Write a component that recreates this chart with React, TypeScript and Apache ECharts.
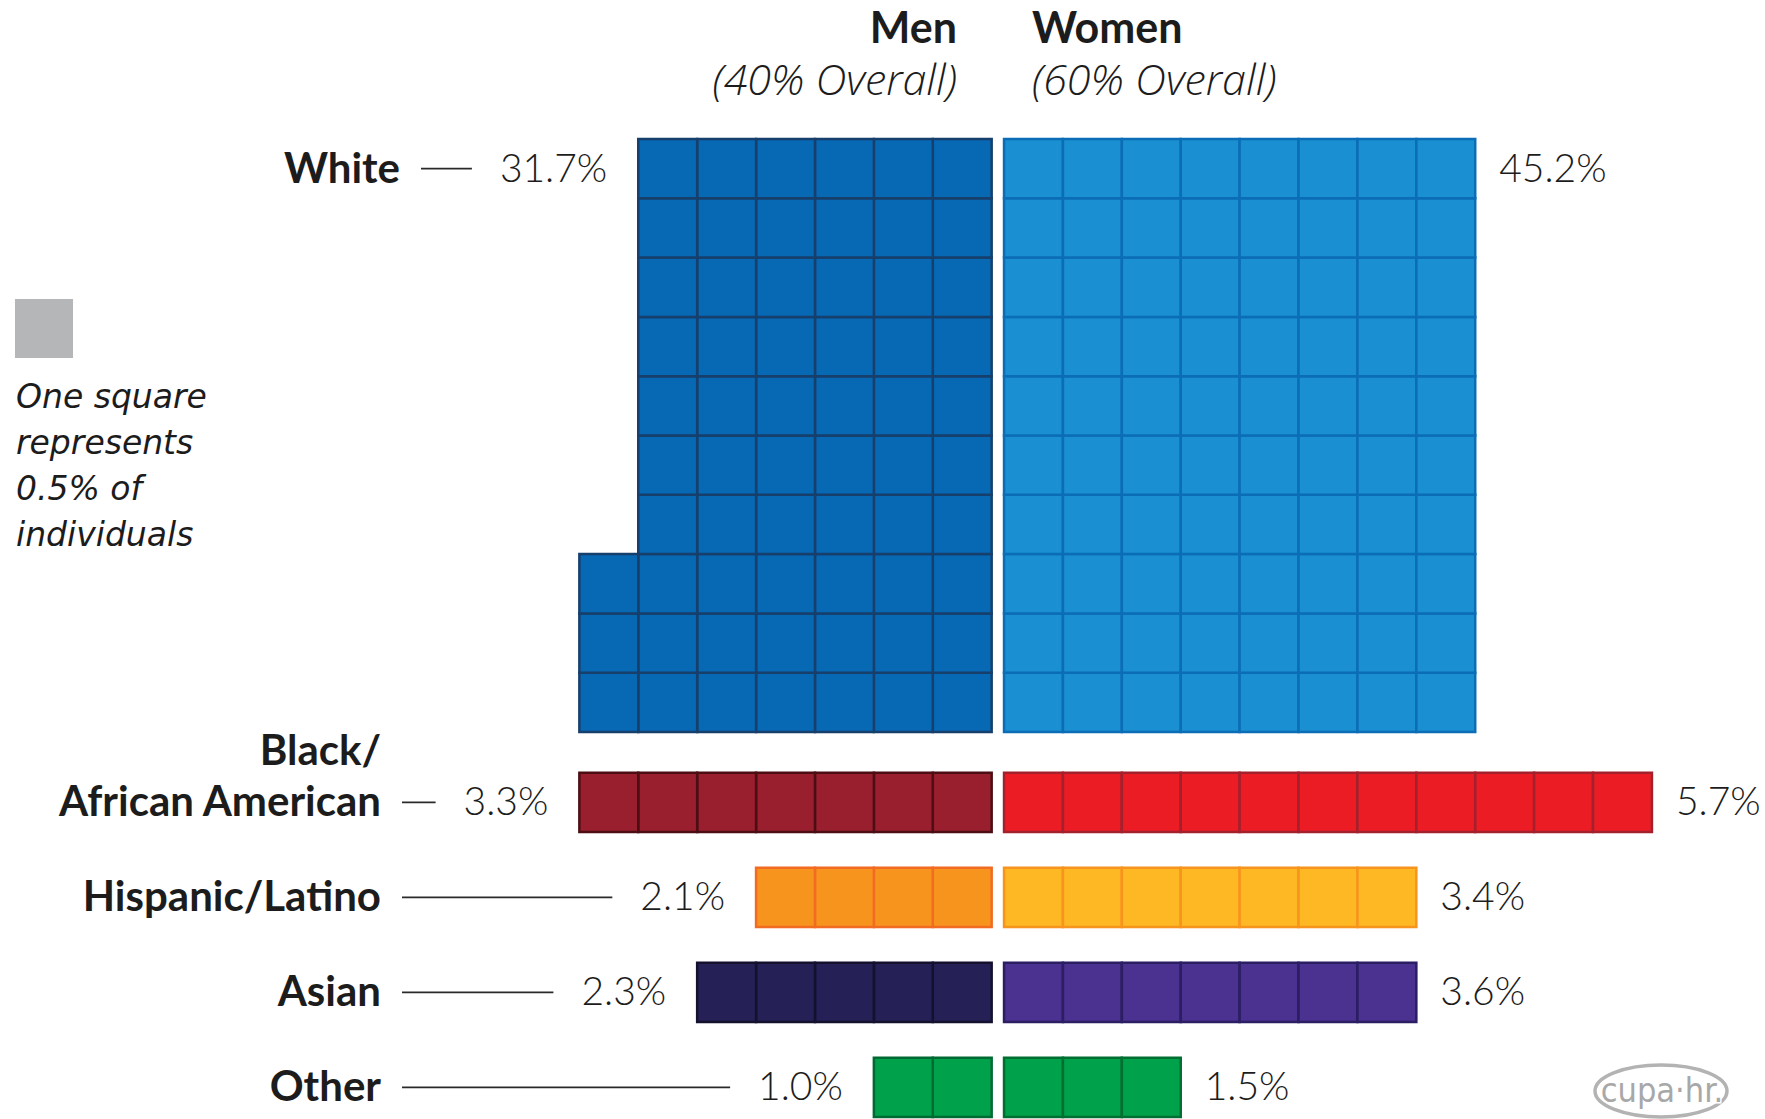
import React, { useEffect, useRef } from "react";
import * as echarts from "echarts";

// ---------- data ----------
const categories = ["White", "Black/\nAfrican American", "Hispanic/Latino", "Asian", "Other"];
const menLabels = ["31.7%", "3.3%", "2.1%", "2.3%", "1.0%"];
const womenLabels = ["45.2%", "5.7%", "3.4%", "3.6%", "1.5%"];
const menSquares = [63, 7, 4, 5, 2];
const womenSquares = [80, 11, 7, 7, 3];
const squaresPerColumn = [10, 1, 1, 1, 1];
const headerMen = ["Men", "(40% Overall)"];
const headerWomen = ["Women", "(60% Overall)"];
const legendLines = ["One square", "represents", "0.5% of", "individuals"];

// ---------- styles ----------
const menFill = ["#0769B4", "#9A1F2E", "#F7941E", "#252055", "#00A14B"];
const menStroke = ["#163F6C", "#4C0E13", "#F26B22", "#14112E", "#006A33"];
const womenFill = ["#1A8FD1", "#EC1C24", "#FDB823", "#4B3190", "#00A14B"];
const womenStroke = ["#0C6DB7", "#A3202D", "#F7941E", "#2B1E62", "#006F31"];
const TEXT = "#1c1c1c";
const FONT = "Lato";
const LIGHT_FONT = '"Open Sans", Lato';
const LEGEND_FONT = '"DejaVu Sans", "Open Sans", sans-serif';

// ---------- layout ----------
const W = 1765;
const H = 1119;
const CELL_W = 58.9;
const CELL_H = 59.3;
const CENTER_X = 997.85;
const TOP_Y = 139;
const HALF_GAP = 0.105;
const labelRightPx = [400, 381, 381, 381, 381];
const groupTop = (g: number) => (g === 0 ? 0 : 10.686 + (g - 1) * 1.602);

function measure(text: string, font: string): number {
  const c = document.createElement("canvas").getContext("2d")!;
  c.font = font;
  return c.measureText(text).width;
}

export default function App() {
  const ref = useRef<HTMLDivElement>(null);

  useEffect(() => {
    if (!ref.current) return;
    const chart = echarts.init(ref.current, undefined, { renderer: "svg" });

    // build cells from counts: columns filled from the centre outward, bottom-up
    const cells: number[][] = [];
    categories.forEach((_, g) => {
      const R = squaresPerColumn[g];
      const top = groupTop(g);
      const add = (n: number, side: number) => {
        for (let k = 0; k < n; k++) {
          const c = Math.floor(k / R);
          const r = R - 1 - (k % R);
          const x0 = side < 0 ? -(c + 1) - HALF_GAP : c + HALF_GAP;
          cells.push([x0, x0 + 1, top + r, top + r + 1, g, side]);
        }
      };
      add(menSquares[g], -1);
      add(womenSquares[g], 1);
    });

    const pctFont = `300 39px ${FONT}`;
    const catFont = `bold 42px ${FONT}`;
    const headFont = `bold 43px ${FONT}`;
    const subFont = `italic 300 43px ${LIGHT_FONT}`;

    const header = (lines: string[], x: number, align: string) => ({
      type: "text",
      style: {
        text: `{a|${lines[0]}}\n{b|${lines[1]}}`,
        x,
        y: 0,
        align,
        verticalAlign: "top",
        fill: TEXT,
        rich: {
          a: { font: headFont, lineHeight: 52, fill: TEXT, align },
          b: { font: subFont, lineHeight: 52, fill: TEXT, align },
        },
      },
    });

    const option: any = {
      animation: false,
      backgroundColor: "#ffffff",
      grid: { left: 0, right: 0, top: 0, bottom: 0 },
      xAxis: {
        type: "value",
        show: false,
        min: -CENTER_X / CELL_W,
        max: (W - CENTER_X) / CELL_W,
      },
      yAxis: {
        type: "value",
        show: false,
        inverse: true,
        min: -TOP_Y / CELL_H,
        max: (H - TOP_Y) / CELL_H,
      },
      series: [
        {
          type: "custom",
          name: "cells",
          data: cells,
          silent: true,
          renderItem: (params: any, api: any) => {
            const p0 = api.coord([api.value(0), api.value(2)]);
            const p1 = api.coord([api.value(1), api.value(3)]);
            const g = api.value(4);
            const side = api.value(5);
            return {
              type: "rect",
              shape: { x: p0[0], y: p0[1], width: p1[0] - p0[0], height: p1[1] - p0[1] },
              style: {
                fill: side < 0 ? menFill[g] : womenFill[g],
                stroke: side < 0 ? menStroke[g] : womenStroke[g],
                lineWidth: 2.5,
              },
            };
          },
        },
        {
          type: "custom",
          name: "labels",
          data: categories.map((_, g) => [g]),
          silent: true,
          renderItem: (params: any, api: any) => {
            const g = api.value(0);
            const R = squaresPerColumn[g];
            const menCols = Math.floor(menSquares[g] / R);
            const womenCols = Math.floor(womenSquares[g] / R);
            const yc = api.coord([0, groupTop(g) + 0.5])[1];
            const ty = yc - 2;
            const menLeft = api.coord([-menCols - HALF_GAP, 0])[0];
            const womenRight = api.coord([womenCols + HALF_GAP, 0])[0];
            const menLabelRight = menLeft - 31;
            const menLabelLeft = menLabelRight - measure(menLabels[g], pctFont);
            const catRight = labelRightPx[g];
            return {
              type: "group",
              children: [
                {
                  type: "line",
                  shape: { x1: catRight + 21, y1: yc, x2: menLabelLeft - 28, y2: yc },
                  style: { stroke: "#2a2a2a", lineWidth: 1.6 },
                },
                {
                  type: "text",
                  style: {
                    text: menLabels[g],
                    x: menLabelRight,
                    y: ty,
                    align: "right",
                    verticalAlign: "middle",
                    font: pctFont,
                    fill: TEXT,
                  },
                },
                {
                  type: "text",
                  style: {
                    text: womenLabels[g],
                    x: womenRight + 24,
                    y: ty,
                    align: "left",
                    verticalAlign: "middle",
                    font: pctFont,
                    fill: TEXT,
                  },
                },
                {
                  type: "text",
                  style: {
                    text: categories[g],
                    x: catRight,
                    y: ty + 25.5,
                    align: "right",
                    verticalAlign: "bottom",
                    font: catFont,
                    lineHeight: 51,
                    fill: TEXT,
                  },
                },
              ],
            };
          },
        },
      ],
      graphic: [
        header(headerMen, 957, "right"),
        header(headerWomen, 1032, "left"),
        {
          type: "rect",
          shape: { x: 15, y: 299, width: 58, height: 59 },
          style: { fill: "#B5B6B8" },
        },
        {
          type: "text",
          style: {
            text: legendLines.join("\n"),
            x: 16,
            y: 396 - 23,
            align: "left",
            verticalAlign: "top",
            font: `italic 200 33px ${LEGEND_FONT}`,
            lineHeight: 46,
            fill: TEXT,
          },
        },
        {
          type: "ellipse",
          shape: { cx: 1661, cy: 1091, rx: 66, ry: 26 },
          style: { fill: "none", stroke: "#B3B3B3", lineWidth: 3.5 },
        },
        {
          type: "text",
          style: {
            text: "cupa·hr.",
            x: 1662,
            y: 1090,
            align: "center",
            verticalAlign: "middle",
            font: `34px "Liberation Sans Narrow", "DejaVu Sans Condensed", sans-serif`,
            fill: "#A8A8A8",
            stroke: "#ffffff",
            lineWidth: 3,
          },
        },
      ],
    };

    chart.setOption(option);
    return () => chart.dispose();
  }, []);

  return (
    <div
      ref={ref}
      style={{ position: "fixed", left: 0, top: 0, width: W, height: H, background: "#fff" }}
    />
  );
}
